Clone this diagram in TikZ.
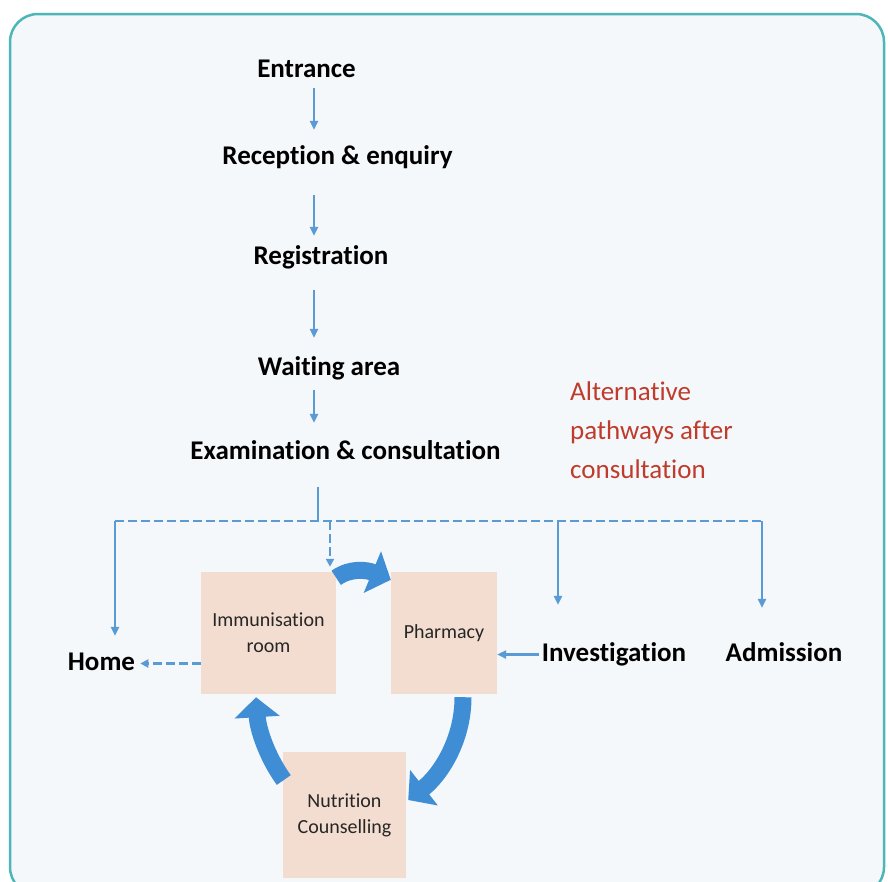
\documentclass[tikz,border=0pt]{standalone}
\usepackage{fontspec}
\setmainfont{Carlito}[Ligatures=NoCommon]
\usetikzlibrary{arrows.meta,positioning}

\definecolor{framecol}{HTML}{4DB6B8}
\definecolor{panel}{HTML}{F4F8FA}
\definecolor{thinblue}{HTML}{5B9BD5}
\definecolor{bigblue}{HTML}{3E8DD5}
\definecolor{roombox}{HTML}{F3DDD0}
\definecolor{notered}{HTML}{BF3B2C}

\begin{document}
\begin{tikzpicture}[x=1pt,y=-1pt,
    steplabel/.style={font=\fontsize{27}{32}\selectfont\bfseries, inner sep=0pt,
        text height=19pt, text depth=6pt, anchor=base},
    room/.style={fill=roombox, inner sep=0pt, align=center, text=black!85,
        font=\fontsize{20}{26}\selectfont},
    flow/.style={draw=thinblue, line width=2.2pt, -{Triangle[length=9pt,width=8pt]}},
    branch/.style={draw=thinblue, line width=2.5pt, dash pattern=on 9pt off 4pt},
    roundarrow/.style={draw=bigblue, line width=17pt, -{Triangle[length=20pt,width=44pt]}}]

    \useasboundingbox (0,0) rectangle (888,881);
    \fill[white] (0,0) rectangle (888,881);
    \draw[framecol, line width=2.5pt, fill=panel, rounded corners=28pt] (10,14) rectangle (884,895);

    % main route
    \node[steplabel] (entrance) at (306.5,77) {Entrance};
    \node[steplabel] (reception) at (337.5,164) {Reception \& enquiry};
    \node[steplabel] (registration) at (321,264) {Registration};
    \node[steplabel] (waiting) at (329,375) {Waiting area};
    \node[steplabel] (exam) at (345.5,459) {Examination \& consultation};

    \node[font=\fontsize{27}{39}\selectfont, text=notered, align=left,
        anchor=north west, inner sep=0pt] (altnote) at (570,382)
        {Alternative\\pathways after\\consultation};

    % rooms
    \node[room, minimum width=135pt, minimum height=122pt] (immun) at (268.5,633) {Immunisation\\room};
    \node[room, minimum width=106pt, minimum height=122pt] (pharmacy) at (444,633) {Pharmacy};
    \node[room, minimum width=123pt, minimum height=126pt] (nutrition) at (344.5,815) {Nutrition\\Counselling};

    \node[steplabel] (home) at (101.5,670) {Home};
    \node[steplabel] (invest) at (614,661) {Investigation};
    \node[steplabel] (admission) at (784,661) {Admission};

    \coordinate (spine) at (314,0);
    \coordinate (junction) at (318,521);
    \coordinate (busL) at (115,521);
    \coordinate (drop) at (330,521);
    \coordinate (investdrop) at (558,521);
    \coordinate (busR) at (762,521);

    \draw[flow, shorten <=5pt, shorten >=15pt] (entrance.south -| spine) -- (reception.north -| spine);
    \draw[flow, shorten <=25pt, shorten >=9pt] (reception.south -| spine) -- (registration.north -| spine);
    \draw[flow, shorten <=20pt, shorten >=18pt] (registration.south -| spine) -- (waiting.north -| spine);
    \draw[flow, shorten <=9pt, shorten >=17pt] (waiting.south -| spine) -- (exam.north -| spine);

    % pathways after consultation
    \draw[thinblue, line width=2.2pt, shorten <=22pt] (exam.south -| junction) -- (junction);
    \draw[branch] (busL) -- (busR);
    \draw[flow, line width=2.5pt, shorten >=15pt] (busL) -- (home.north -| busL);
    \draw[branch, -{Triangle[length=8pt,width=8pt]}, shorten >=5pt] (drop) -- (immun.north -| drop);
    \draw[flow, line width=2.5pt, shorten >=37pt] (investdrop) -- (invest.north -| investdrop);
    \draw[flow, line width=2.5pt, shorten >=34pt] (busR) -- (admission.north -| busR);

    \draw[branch, -{Triangle[length=8pt,width=8pt]}, shorten >=5pt] (home.east -| immun.west) -- (home.east);
    \draw[flow, shorten <=3pt] (invest.west) -- (invest.west -| pharmacy.east);

    % cycle between the rooms
    \draw[roundarrow] ([yshift=-6pt]immun.north east) .. controls +(14,-10) and +(-24,-10) .. ([yshift=-8pt]pharmacy.north west);
    \draw[roundarrow] ([xshift=19pt,yshift=-3pt]pharmacy.south) .. controls +(0,43) and +(32,-25) .. ([xshift=2pt,yshift=15pt]nutrition.east);
    \draw[roundarrow] ([xshift=1pt,yshift=35pt]nutrition.west) .. controls +(-16,-22) and +(2,33) .. ([xshift=-12.5pt,yshift=-3pt]immun.south);
\end{tikzpicture}
\end{document}
